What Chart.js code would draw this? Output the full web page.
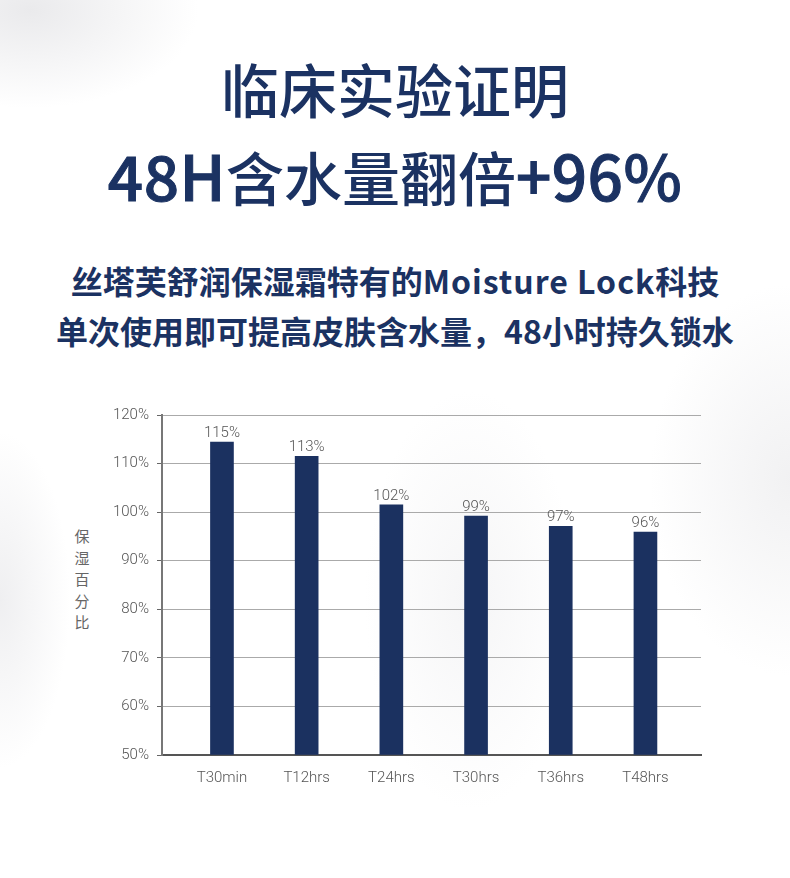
<!DOCTYPE html>
<html>
<head>
<meta charset="utf-8">
<script src="https://cdn.jsdelivr.net/npm/chart.js@4"></script>
<style>
  html, body { margin: 0; padding: 0; }
  body {
    width: 790px; height: 878px; position: relative; overflow: hidden;
    background:
      radial-gradient(ellipse 240px 140px at 30px 10px, rgba(225,225,228,0.7), rgba(255,255,255,0) 70%),
      radial-gradient(ellipse 100px 240px at 0px 600px, rgba(228,228,231,0.6), rgba(255,255,255,0) 70%),
      radial-gradient(ellipse 150px 300px at 470px 600px, rgba(236,236,238,0.5), rgba(255,255,255,0) 70%),
      radial-gradient(ellipse 200px 280px at 790px 480px, rgba(232,232,234,0.6), rgba(255,255,255,0) 70%),
      #ffffff;
    font-family: "Noto Sans CJK SC", "Noto Sans", sans-serif;
    color: #1b3262;
  }
  .t { position: absolute; left: 0; width: 790px; text-align: center; white-space: nowrap; }
  #title1 { top: 56px; font-size: 58px; line-height: 64px; font-weight: 500; }
  #title2 { top: 142px; font-size: 58px; line-height: 64px; font-weight: 500; }
  #title2 .lat { font-size: 62px; font-weight: 500; letter-spacing: 0.5px; -webkit-text-stroke: 1px #1b3262; }
  #sub1 { top: 261px; font-size: 32px; line-height: 38px; font-weight: 700; }
  #sub1 .lat { letter-spacing: 1px; }
  #sub2 { top: 311px; font-size: 32px; line-height: 38px; font-weight: 700; }
  #ytitle {
    position: absolute; left: 72px; top: 525px; width: 20px;
    font-size: 15px; line-height: 21.5px; color: #666; text-align: center;
  }
  #chart { position: absolute; left: 0; top: 0; }
</style>
</head>
<body>
<div class="t" id="title1">临床实验证明</div>
<div class="t" id="title2"><span class="lat">48H</span>含水量翻倍<span class="lat">+96%</span></div>
<div class="t" id="sub1">丝塔芙舒润保湿霜特有的<span class="lat">Moisture Lock</span>科技</div>
<div class="t" id="sub2">单次使用即可提高皮肤含水量，48小时持久锁水</div>
<div id="ytitle">保<br>湿<br>百<br>分<br>比</div>
<canvas id="chart" width="790" height="878"></canvas>
<script>
// 数据
var categories = ['T30min', 'T12hrs', 'T24hrs', 'T30hrs', 'T36hrs', 'T48hrs'];
var barHeights = [114.4, 111.5, 101.5, 99.2, 97.1, 95.9]; // 柱子实际高度
var barLabels = ['115%', '113%', '102%', '99%', '97%', '96%']; // 柱顶文字
var yTicks = [50, 60, 70, 80, 90, 100, 110, 120];

var navy = '#1b3160';
var tickFont = { family: 'Roboto, "Liberation Sans", sans-serif', size: 15, weight: '300' };

// 柱顶数值
var barLabelPlugin = {
    id: 'barLabels',
    afterDatasetsDraw: function(chart) {
        var ctx = chart.ctx;
        var meta = chart.getDatasetMeta(0);
        ctx.save();
        ctx.font = '300 15px Roboto, "Liberation Sans", sans-serif';
        ctx.fillStyle = '#555';
        ctx.textAlign = 'center';
        ctx.textBaseline = 'middle';
        meta.data.forEach(function(bar, i) {
            ctx.fillText(barLabels[i], bar.x, bar.y - 9);
        });
        ctx.restore();
    }
};

var ctx = document.getElementById('chart').getContext('2d');
new Chart(ctx, {
    type: 'bar',
    data: {
        datasets: [{
            data: barHeights.map(function(v, i) { return { x: i, y: v }; }),
            backgroundColor: navy,
            barThickness: 23,
            base: 50
        }]
    },
    plugins: [barLabelPlugin],
    options: {
        responsive: false,
        animation: false,
        layout: { padding: { top: 415, right: 89, bottom: 0, left: 0 } },
        plugins: { legend: { display: false }, tooltip: { enabled: false } },
        scales: {
            x: {
                type: 'linear',
                offset: false,
                min: -0.708,
                max: 5.656,
                afterBuildTicks: function(scale) {
                    scale.ticks = categories.map(function(c, i) { return { value: i }; });
                },
                afterFit: function(scale) { scale.height = 123; },
                grid: { display: false },
                border: { display: true, color: '#555', width: 2 },
                ticks: {
                    autoSkip: false,
                    maxRotation: 0,
                    padding: 6,
                    color: '#555',
                    font: tickFont,
                    callback: function(v) { return categories[v]; }
                }
            },
            y: {
                min: 50,
                max: 120,
                afterBuildTicks: function(scale) {
                    scale.ticks = yTicks.map(function(v) { return { value: v }; });
                },
                afterFit: function(scale) { scale.width = 162; },
                grid: { color: '#aaa', lineWidth: 1, tickLength: 5, tickColor: '#666' },
                border: { display: true, color: '#777', width: 2 },
                ticks: {
                    padding: 8,
                    color: '#555',
                    font: tickFont,
                    callback: function(v) { return v + '%'; }
                }
            }
        }
    }
});
</script>
</body>
</html>
